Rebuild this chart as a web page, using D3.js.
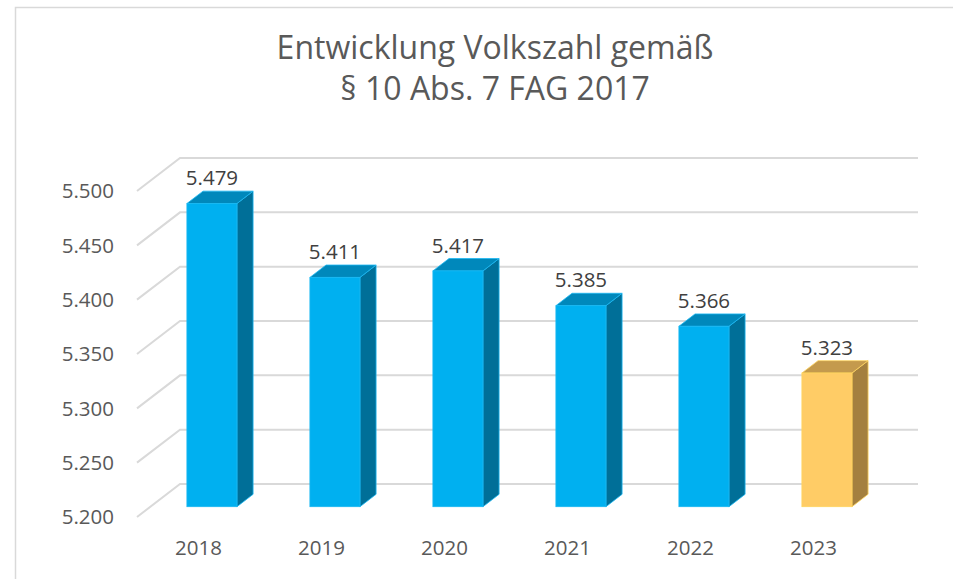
<!DOCTYPE html>
<html>
<head>
<meta charset="utf-8">
<script src="https://cdn.jsdelivr.net/npm/d3@7"></script>
<style>
  html, body { margin: 0; padding: 0; background: #fff; }
  svg { display: block; font-family: "Open Sans", sans-serif; }
</style>
</head>
<body>
<div id="chart"></div>
<script>
const years = ["2018", "2019", "2020", "2021", "2022", "2023"];
const population = [5479, 5411, 5417, 5385, 5366, 5323];
const highlightYear = "2023";
const yTicks = [5200, 5250, 5300, 5350, 5400, 5450, 5500];
const titleLines = ["Entwicklung Volkszahl gemäß", "§ 10 Abs. 7 FAG 2017"];

const width = 953, height = 579;

// oblique depth of the 3d floor
const depthX = 43, depthY = -33;
const barFront = 0.3125, barBack = 0.6875;

const de = d3.formatLocale({decimal: ",", thousands: ".", grouping: [3], currency: ["", " €"]});
const fmt = de.format(",d");

const svg = d3.select("#chart").append("svg")
    .attr("width", width)
    .attr("height", height);

// chart frame
svg.append("rect")
    .attr("x", 15.5).attr("y", 7.5)
    .attr("width", width + 20).attr("height", height + 20)
    .attr("fill", "none")
    .attr("stroke", "#d9d9d9")
    .attr("stroke-width", 1.5);

const x = d3.scaleBand()
    .domain(years)
    .range([137, 875])
    .paddingInner(0.593)
    .paddingOuter(0.2965);

const y = d3.scaleLinear()
    .domain([5200, 5500])
    .range([517, 191]);

// title
svg.append("g").selectAll("text")
  .data(titleLines)
  .join("text")
    .attr("x", 495)
    .attr("y", (d, i) => 59 + i * 41)
    .attr("text-anchor", "middle")
    .attr("fill", "#595959")
    .style("font-size", "32px")
    .text(d => d);

// gridlines: back wall + side diagonals
const grid = svg.append("g")
    .attr("stroke", "#d9d9d9")
    .attr("stroke-width", 2)
    .attr("fill", "none");

grid.selectAll("path")
  .data(yTicks)
  .join("path")
    .attr("d", d => {
      const x0 = x.range()[0], x1 = x.range()[1];
      return `M${x0},${y(d)}L${x0 + depthX},${y(d) + depthY}L${x1 + depthX},${y(d) + depthY}`;
    });

// y axis labels
svg.append("g").selectAll("text")
  .data(yTicks)
  .join("text")
    .attr("x", 114)
    .attr("y", d => y(d))
    .attr("dy", "0.35em")
    .attr("text-anchor", "end")
    .attr("fill", "#595959")
    .style("font-size", "20.5px")
    .text(d => fmt(d));

// x axis labels
svg.append("g").selectAll("text")
  .data(years)
  .join("text")
    .attr("x", d => x(d) + x.bandwidth() / 2)
    .attr("y", 555)
    .attr("text-anchor", "middle")
    .attr("fill", "#595959")
    .style("font-size", "20.5px")
    .text(d => d);

const colors = {
  normal: {front: "#00b0f0", top: "#0088bb", side: "#006f98", stroke: "#1ab8f2"},
  highlight: {front: "#ffcc66", top: "#c49a4d", side: "#a4803f", stroke: "#ffd45e"}
};

const bars = years.map((yr, i) => ({year: yr, value: population[i]}));

svg.append("g").selectAll("g")
  .data(bars)
  .join("g")
    .each(function(d) {
      const g = d3.select(this);
      const c = d.year === highlightYear ? colors.highlight : colors.normal;
      const fx = x(d.year) + depthX * barFront;
      const fy = depthY * barFront;
      const w = x.bandwidth();
      const ox = depthX * (barBack - barFront), oy = depthY * (barBack - barFront);
      const top = y(d.value) + fy, bottom = y(5200) + fy;

      g.append("path")
          .attr("d", `M${fx + w},${bottom}L${fx + w + ox},${bottom + oy}L${fx + w + ox},${top + oy}L${fx + w},${top}Z`)
          .attr("fill", c.side).attr("stroke", c.stroke).attr("stroke-width", 0.8);
      g.append("path")
          .attr("d", `M${fx},${top}L${fx + ox},${top + oy}L${fx + w + ox},${top + oy}L${fx + w},${top}Z`)
          .attr("fill", c.top).attr("stroke", c.stroke).attr("stroke-width", 0.8);
      g.append("rect")
          .attr("x", fx).attr("y", top)
          .attr("width", w).attr("height", bottom - top)
          .attr("fill", c.front).attr("stroke", c.stroke).attr("stroke-width", 0.8);

      g.append("text")
          .attr("x", fx + w / 2)
          .attr("y", top + oy - 6)
          .attr("text-anchor", "middle")
          .attr("fill", "#404040")
          .style("font-size", "20.5px")
          .text(fmt(d.value));
    });
</script>
</body>
</html>
